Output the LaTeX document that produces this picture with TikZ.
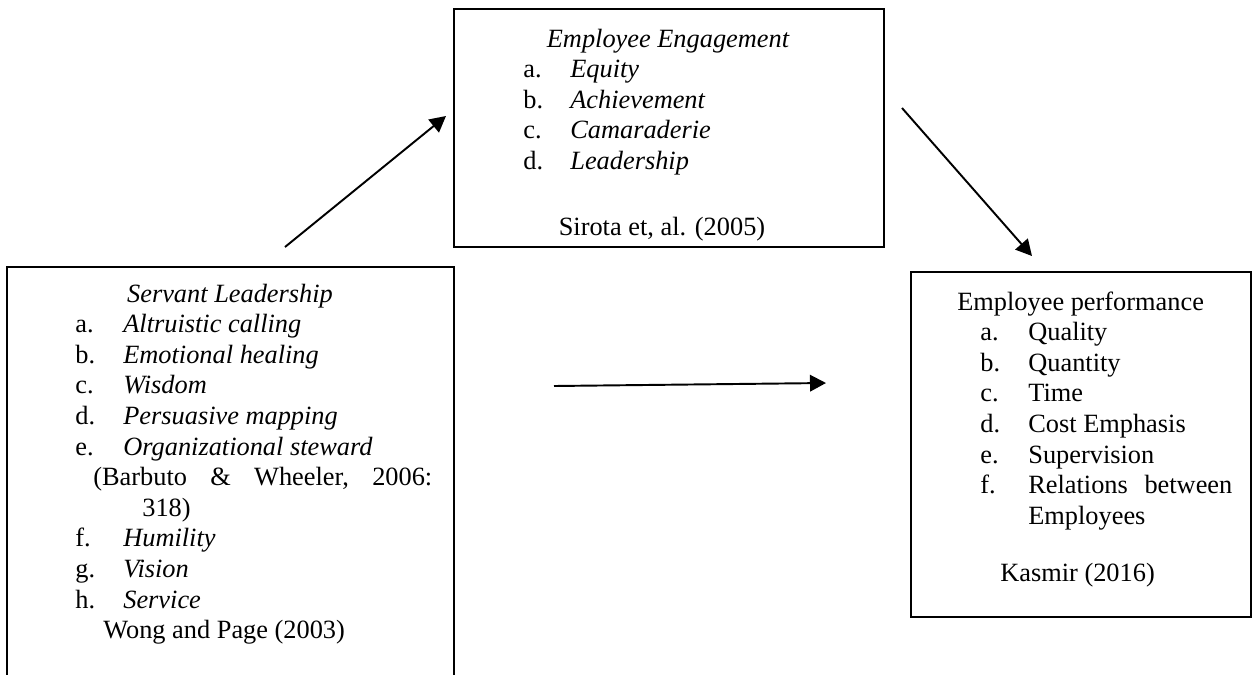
\documentclass[tikz,border=0pt]{standalone}
\usepackage{fontspec}
\setmainfont{Liberation Serif}
\usetikzlibrary{arrows.meta,positioning}

\begin{document}
\begin{tikzpicture}[x=0.02cm,y=-0.02cm,>={Triangle[length=3.2mm,width=3.3mm]},
    font=\fontsize{15}{17.4}\selectfont]
  \tikzset{
    frame/.style={draw,line width=1.2pt,inner sep=0pt},
    txt/.style={anchor=base west,inner sep=0pt},
    head/.style={anchor=base,inner sep=0pt},
    link/.style={->,line width=1.1pt}
  }
  \useasboundingbox (0,0) rectangle (1252,674);

  % the three boxes (left one runs off the bottom)
  \node[frame,minimum width=8.94cm,minimum height=10cm] (sl) at (230.5,517) {};
  \node[frame,minimum width=8.6cm,minimum height=4.76cm] (ee) at (669,128) {};
  \node[frame,minimum width=6.8cm,minimum height=6.9cm] (ep) at (1081,444.5) {};

  % employee engagement
  \node[head] (ee-t) at (668,47) {\itshape Employee Engagement};
  \foreach \lbl/\item [count=\i] in {a./Equity,b./Achievement,c./Camaraderie,d./Leadership}{
    \node[txt] (ee-l\i) at (523,{47+30.6*\i}) {\lbl};
    \node[txt] (ee-i\i) at (570,{47+30.6*\i}) {\itshape\item};
  }
  \node[head] (ee-src) at (662,235) {Sirota et, al. (2005)};

  % servant leadership
  \node[head] (sl-t) at (230,302) {\itshape Servant Leadership};
  \foreach \lbl/\item [count=\i] in {a./Altruistic calling,b./Emotional healing,
      c./Wisdom,d./Persuasive mapping,e./Organizational steward}{
    \node[txt] (sl-l\i) at (75,{302+30.6*\i}) {\lbl};
    \node[txt] (sl-i\i) at (123,{302+30.6*\i}) {\itshape\item};
  }
  \node[txt] (sl-src1) at (93,{302+30.6*6})
    {\makebox[6.78cm][s]{(Barbuto\hfill\&\hfill Wheeler,\hfill 2006:}};
  \node[txt] (sl-src1b) at (142,{302+30.6*7}) {318)};
  \foreach \lbl/\item [count=\i from 8] in {f./Humility,g./Vision,h./Service}{
    \node[txt] (sl-l\i) at (75,{302+30.6*\i}) {\lbl};
    \node[txt] (sl-i\i) at (123,{302+30.6*\i}) {\itshape\item};
  }
  \node[txt] (sl-src2) at (103,{302+30.6*11}) {Wong and Page (2003)};

  % employee performance
  \node[txt] (ep-t) at (957,310) {Employee performance};
  \foreach \lbl/\item [count=\i] in {a./Quality,b./Quantity,c./Time,
      d./Cost Emphasis,e./Supervision}{
    \node[txt] (ep-l\i) at (980,{310+30.6*\i}) {\lbl};
    \node[txt] (ep-i\i) at (1028,{310+30.6*\i}) {\item};
  }
  \node[txt] (ep-l6) at (980,{310+30.6*6}) {f.};
  \node[txt] (ep-i6) at (1028,{310+30.6*6}) {\makebox[4.08cm][s]{Relations\hfill between}};
  \node[txt] (ep-i6b) at (1028,{310+30.6*7}) {Employees};
  \node[txt] (ep-src) at (1000,581) {Kasmir (2016)};

  % arrows between the boxes
  \coordinate (sl-out) at (285,247);
  \coordinate (ee-in) at (446,116);
  \coordinate (ee-out) at (902,108);
  \coordinate (ep-in) at (1032,256);
  \coordinate (sl-mid) at (554,386);
  \coordinate (ep-mid) at (826,383);
  \draw[link] (sl-out) -- (ee-in);
  \draw[link] (ee-out) -- (ep-in);
  \draw[link] (sl-mid) -- (ep-mid);
\end{tikzpicture}
\end{document}
